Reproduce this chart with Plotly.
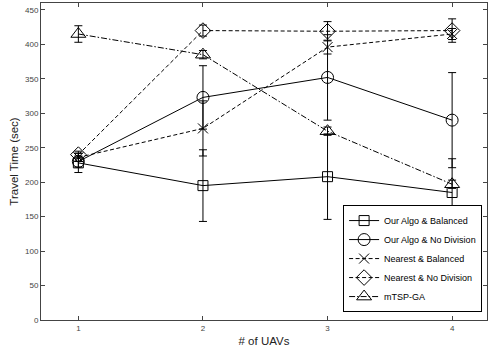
import plotly.graph_objects as go

uavs = [1, 2, 3, 4]
names = ["Our Algo & Balanced", "Our Algo & No Division", "Nearest & Balanced",
         "Nearest & No Division", "mTSP-GA"]
our_bal = [228, 195, 208, 185]
our_bal_err = [14, 52, 62, 49]
our_nodiv = [230, 323, 352, 290]
our_nodiv_err = [8, 46, 62, 69]
near_bal = [236, 278, 396, 415]
near_bal_err = [6, 40, 10, 8]
near_nodiv = [240, 420, 419, 420]
near_nodiv_err = [5, 8, 14, 17]
mtsp = [415, 385, 274, 197]
mtsp_err = [12, 6, 6, 6]

series = [
    (names[0], our_bal, our_bal_err, "square-open", "solid", 10),
    (names[1], our_nodiv, our_nodiv_err, "circle-open", "solid", 12),
    (names[2], near_bal, near_bal_err, "x-thin-open", "4px,2.5px", 10),
    (names[3], near_nodiv, near_nodiv_err, "diamond-open", "4px,2.5px", 12),
    (names[4], mtsp, mtsp_err, "triangle-up-open", "6px,2px,1.5px,2px", 13),
]

fig = go.Figure()
for name, y, err, sym, dash, sz in series:
    fig.add_trace(go.Scatter(
        x=uavs, y=y, name=name, mode="lines+markers",
        line=dict(color="black", width=1, dash=dash),
        marker=dict(symbol=sym, size=sz, color="black", line=dict(color="black", width=1)),
        error_y=dict(type="data", array=err, visible=True, color="black", thickness=1, width=4),
    ))

axis_common = dict(showline=True, mirror="ticks", linecolor="#444", linewidth=1,
                   ticks="inside", ticklen=4, tickcolor="#444", showgrid=False, zeroline=False,
                   tickfont=dict(family="Liberation Sans, Arial", size=8, color="#444"))
fig.update_xaxes(range=[0.7, 4.28], tickvals=uavs,
                 title=dict(text="# of UAVs", font=dict(size=11.5, color="#222"), standoff=5),
                 **axis_common)
fig.update_yaxes(range=[0, 460], tickvals=list(range(0, 451, 50)),
                 title=dict(text="Travel Time (sec)", font=dict(size=11.5, color="#222"), standoff=4),
                 **axis_common)
fig.update_layout(
    width=488, height=354,
    margin=dict(l=41, r=1, t=3, b=34, autoexpand=False),
    paper_bgcolor="white", plot_bgcolor="white",
    font=dict(family="Liberation Sans, Arial", color="black"),
    showlegend=True,
    legend=dict(x=0.989, y=0.025, xanchor="right", yanchor="bottom",
                bgcolor="white", bordercolor="black", borderwidth=1,
                font=dict(size=9), tracegroupgap=0, itemwidth=30),
)
fig.write_html("out.html", config={"displayModeBar": False},
               post_script="document.body.style.margin='0';document.body.style.overflow='hidden';")
